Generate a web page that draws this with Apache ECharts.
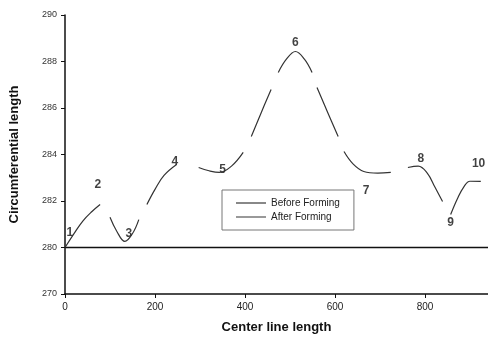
<!DOCTYPE html>
<html lang="en">
<head>
    <meta charset="UTF-8">
    <title>Circumferential length</title>
    <script src="https://cdn.jsdelivr.net/npm/echarts@6/dist/echarts.min.js"></script>
</head>
<body style="margin: 0; background: #fff">
<div id="main" style="width: 488px; height: 343px"></div>
<script>
    // y ticks 278..290, the lowest one is printed as "270" in the figure
    const yTickValues = [278, 280, 282, 284, 286, 288, 290];
    const yTickLabels = ['270', '280', '282', '284', '286', '288', '290'];

    const beforeX = [0, 940];
    const beforeY = [280, 280];

    // after forming: segments separated by null
    const afterX = [0, 20, 40, 60, 78, null,
        100, 115, 133, 150, 164, null,
        182, 200, 220, 248, null,
        297, 320, 343, 370, 396, null,
        414, 436, 458, null,
        474, 492, 512, 532, 549, null,
        560, 584, 607, null,
        620, 640, 664, 695, 724, null,
        762, 785, 805, 822, 839, null,
        857, 872, 886, 900, 924];
    const afterY = [280, 280.6, 281.15, 281.55, 281.85, null,
        281.3, 280.7, 280.26, 280.6, 281.2, null,
        281.85, 282.5, 283.1, 283.57, null,
        283.44, 283.3, 283.23, 283.5, 284.09, null,
        284.77, 285.8, 286.8, null,
        287.53, 288.1, 288.43, 288.1, 287.53, null,
        286.88, 285.8, 284.77, null,
        284.13, 283.6, 283.27, 283.2, 283.23, null,
        283.44, 283.5, 283.2, 282.6, 281.98, null,
        281.42, 282.1, 282.6, 282.85, 282.84];

    const pointNames = ['1', '2', '3', '4', '5', '6', '7', '8', '9', '10'];
    const pointX = [11, 73, 142, 244, 350, 512, 669, 791, 857, 919];
    const pointY = [280.65, 282.7, 280.6, 283.7, 283.35, 288.8, 282.45, 283.8, 281.08, 283.6];

    const chart = echarts.init(document.getElementById('main'));

    function pairs(xs, ys) {
        return xs.map((x, i) => x === null ? '-' : [x, ys[i]]);
    }

    const option = {
        animation: false,
        textStyle: {fontFamily: 'Liberation Sans'},
        grid: {left: 63, right: 0, top: 15, bottom: 49},
        legend: {
            orient: 'vertical',
            left: 222,
            top: 190,
            padding: [8, 14, 8, 14],
            itemGap: 4,
            itemWidth: 30,
            itemHeight: 8,
            borderColor: '#777',
            borderWidth: 1,
            textStyle: {fontSize: 10, color: '#222'},
            data: [
                {name: 'Before Forming', icon: 'path://M0,4 L30,4 L30,5 L0,5 Z'},
                {name: 'After Forming', icon: 'path://M0,4 L30,4 L30,5 L0,5 Z'}
            ]
        },
        xAxis: {
            type: 'value',
            min: 0,
            max: 940,
            interval: 200,
            name: 'Center line length',
            nameLocation: 'middle',
            nameGap: 27,
            nameTextStyle: {fontSize: 13, fontWeight: 'bold', color: '#111'},
            splitLine: {show: false},
            axisLine: {lineStyle: {color: '#111', width: 1.5}},
            axisTick: {show: true, length: 4, lineStyle: {color: '#111'}},
            axisLabel: {fontSize: 10, color: '#222', margin: 8, showMaxLabel: false}
        },
        yAxis: {
            type: 'value',
            min: 278,
            max: 290,
            interval: 2,
            name: 'Circumferential length',
            nameLocation: 'middle',
            nameGap: 44,
            nameTextStyle: {fontSize: 13, fontWeight: 'bold', color: '#111'},
            splitLine: {show: false},
            axisLine: {show: true, lineStyle: {color: '#111', width: 1.5}},
            axisTick: {show: true, length: 4, lineStyle: {color: '#111'}},
            axisLabel: {
                fontSize: 9,
                color: '#333',
                margin: 8,
                formatter: v => yTickLabels[yTickValues.indexOf(v)]
            }
        },
        series: [
            {
                name: 'Before Forming',
                type: 'line',
                symbol: 'none',
                color: '#111',
                lineStyle: {width: 1.6, color: '#111'},
                data: pairs(beforeX, beforeY)
            },
            {
                name: 'After Forming',
                type: 'line',
                symbol: 'none',
                smooth: 0.4,
                connectNulls: false,
                color: '#333',
                lineStyle: {width: 1.2, color: '#333'},
                data: pairs(afterX, afterY)
            },
            {
                type: 'scatter',
                symbolSize: 0,
                silent: true,
                label: {
                    show: true,
                    position: 'inside',
                    fontSize: 12,
                    fontWeight: 'bold',
                    color: '#111',
                    formatter: p => pointNames[p.dataIndex]
                },
                data: pairs(pointX, pointY)
            }
        ]
    };
    chart.setOption(option);
</script>
</body>
</html>
